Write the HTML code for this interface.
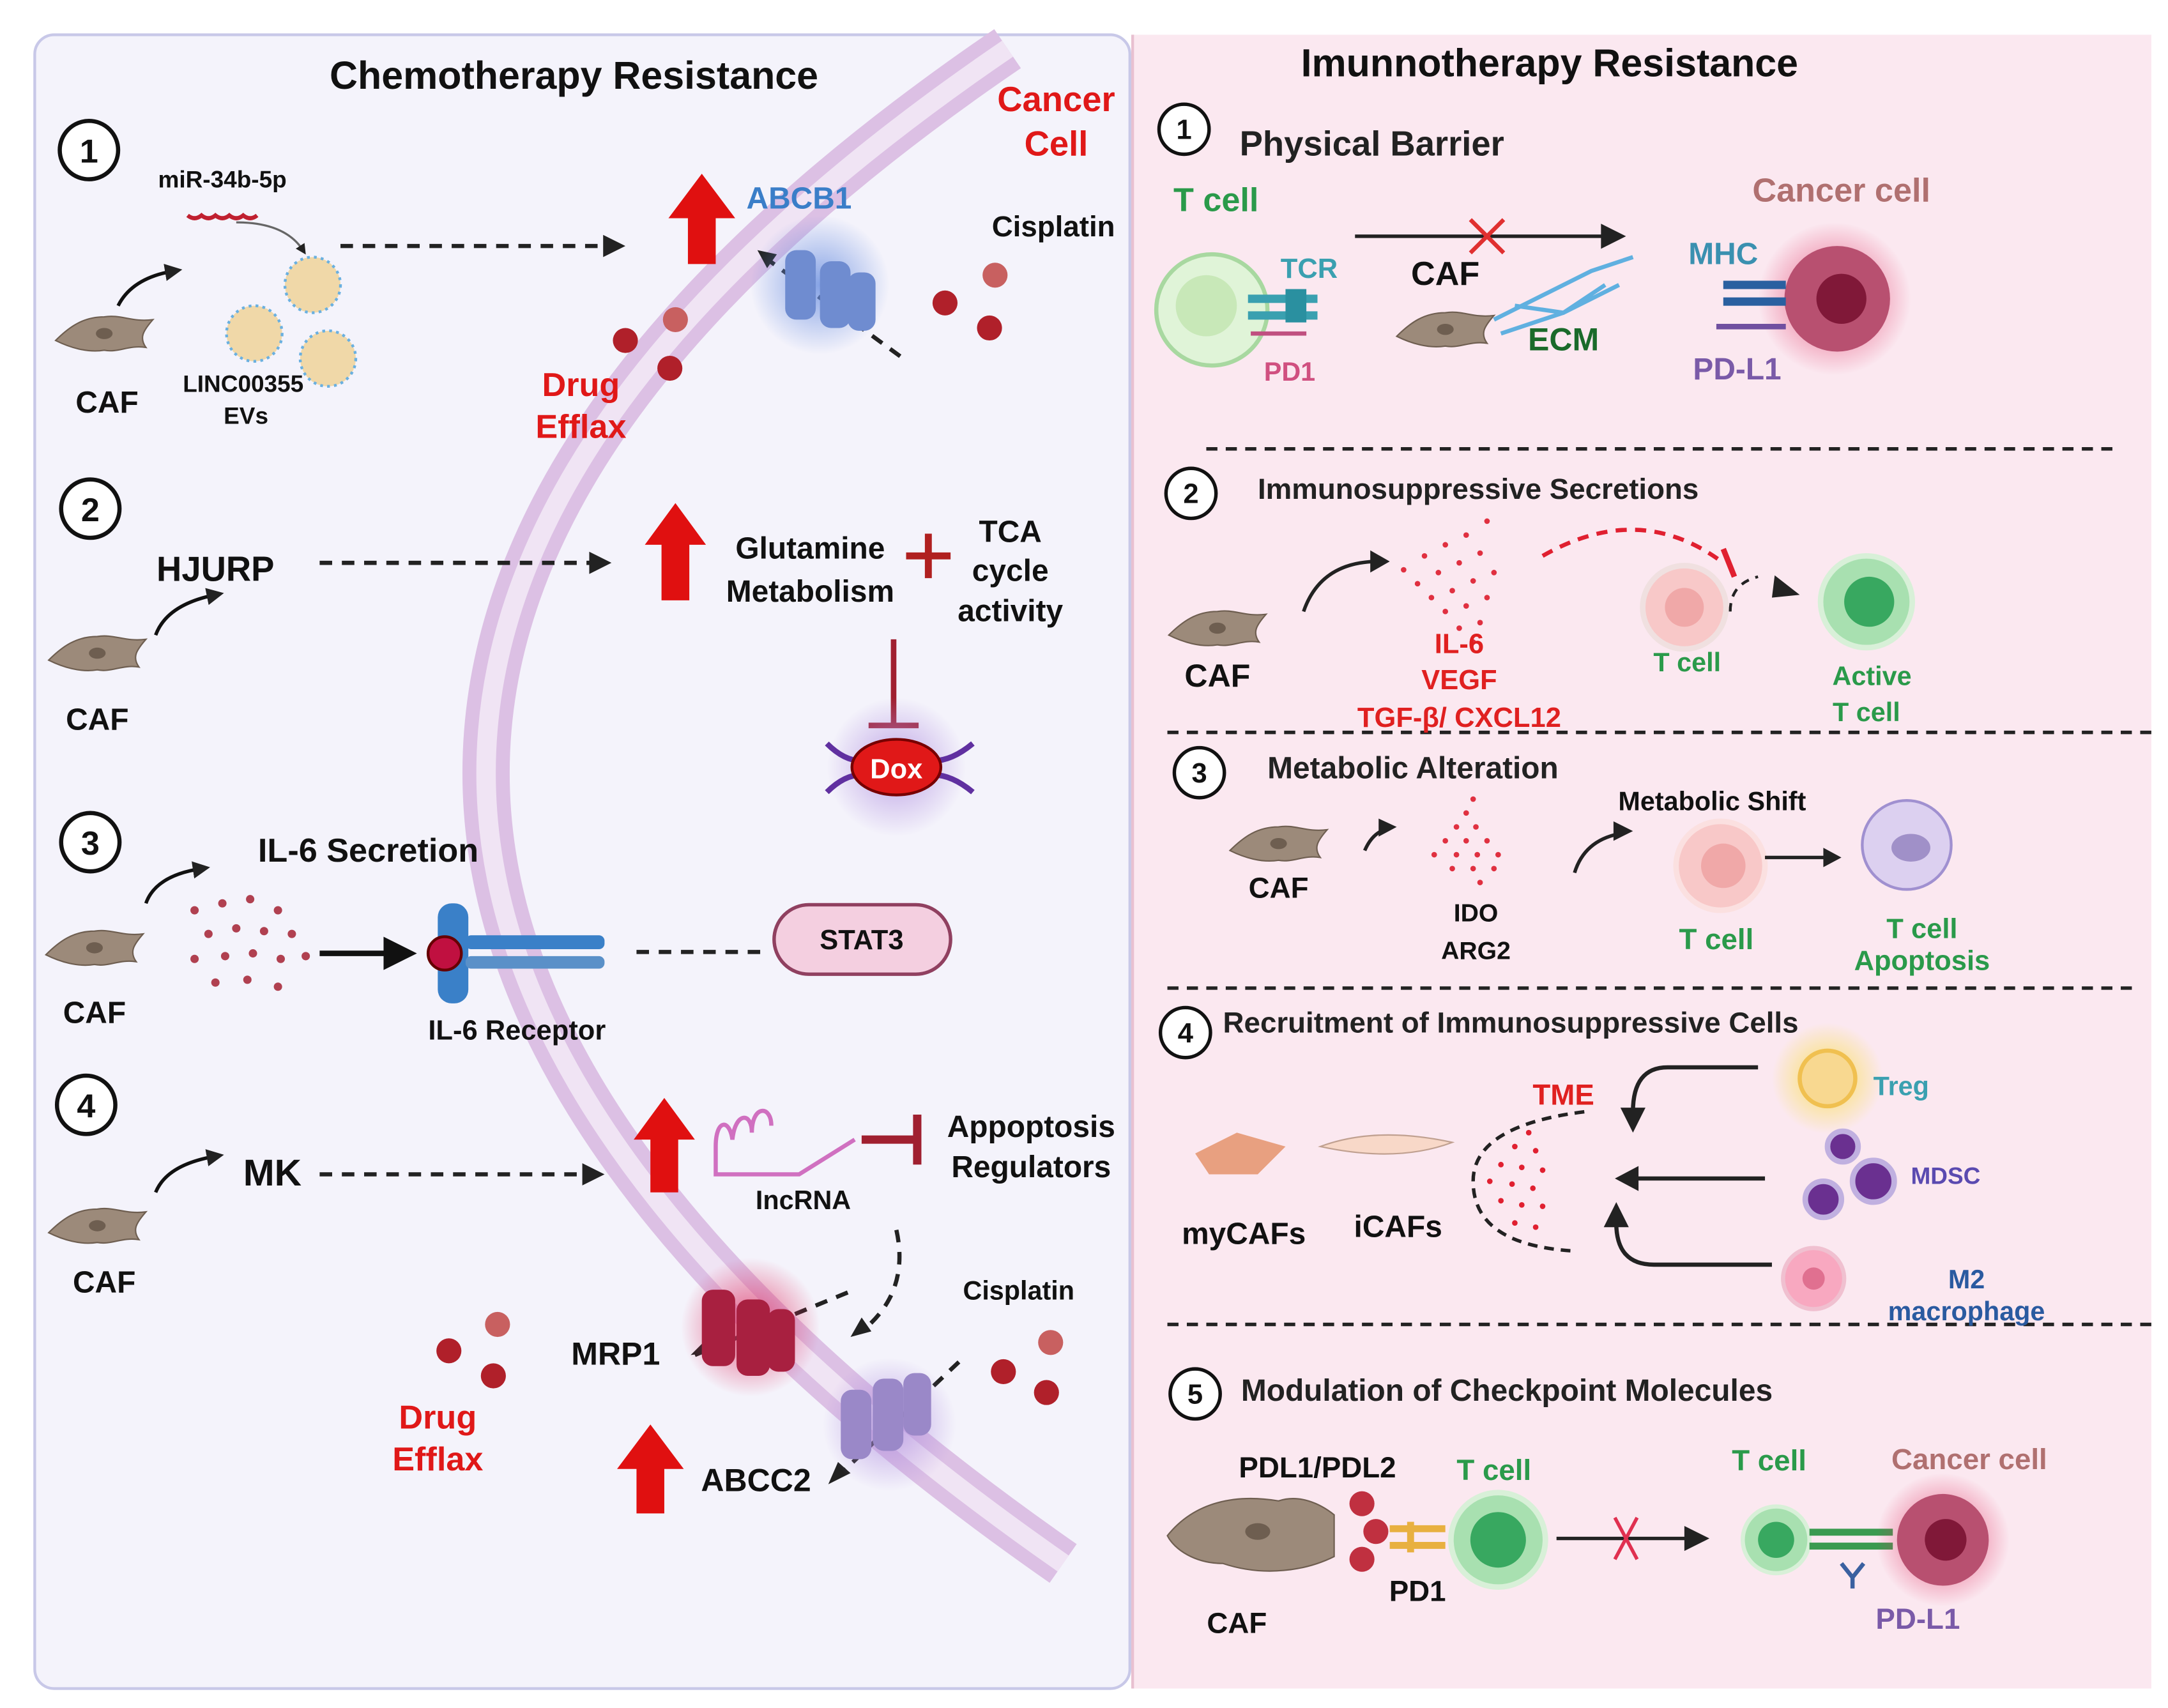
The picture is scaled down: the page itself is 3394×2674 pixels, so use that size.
<!DOCTYPE html>
<html><head><meta charset="utf-8"><style>
html,body{margin:0;padding:0;background:#fff}
svg{display:block}
text{font-family:"Liberation Sans",sans-serif;font-weight:bold}
</style></head><body>
<svg width="3394" height="2674" viewBox="0 0 1560 1229" preserveAspectRatio="none" xmlns="http://www.w3.org/2000/svg">
<defs>
<marker id="ah" viewBox="0 0 10 10" refX="5" refY="5" markerWidth="5" markerHeight="5" orient="auto"><path d="M0,0 L10,5 L0,10z" fill="#222"/></marker>
<radialGradient id="glowB"><stop offset="0" stop-color="#6a8fe0" stop-opacity=".8"/><stop offset="1" stop-color="#6a8fe0" stop-opacity="0"/></radialGradient>
<radialGradient id="glowR"><stop offset="0" stop-color="#e03060" stop-opacity=".8"/><stop offset="1" stop-color="#e03060" stop-opacity="0"/></radialGradient>
<radialGradient id="glowP"><stop offset="0" stop-color="#b090e0" stop-opacity=".8"/><stop offset="1" stop-color="#b090e0" stop-opacity="0"/></radialGradient>
<radialGradient id="glowY"><stop offset="0" stop-color="#f8e060"/><stop offset="1" stop-color="#f8e060" stop-opacity="0"/></radialGradient>
<g id="caf"><path d="M-35,5 C-25,-5 -15,-12 0,-12 C12,-14 20,-8 35,-10 C28,-2 25,3 30,10 C18,8 10,14 0,12 C-12,14 -25,10 -35,5Z" fill="#9c8a7a" stroke="#6e5e50" stroke-width="1"/><ellipse cx="0" cy="0" rx="6" ry="4" fill="#6e5e50"/></g>
<g id="drug"><circle cx="0" cy="0" r="9" fill="#b0202a"/></g>
</defs>
<rect x="25" y="25" width="788" height="1190" rx="14" fill="#f4f3fb" stroke="#c8c8e8" stroke-width="2"/>
<rect x="815" y="25" width="733" height="1190" fill="#fbe8f0"/>
<line x1="815" y1="25" x2="815" y2="1215" stroke="#e8c0d0" stroke-width="2"/>
<!-- membrane -->
<path d="M725,35 Q-45,560 765,1125" fill="none" stroke="#dcc0e4" stroke-width="34"/>
<path d="M725,35 Q-45,560 765,1125" fill="none" stroke="#f0e4f4" stroke-width="14"/>
<text x="413" y="64" font-size="28" text-anchor="middle" fill="#111">Chemotherapy Resistance</text>
<text x="760" y="80" font-size="25" text-anchor="middle" fill="#e01818">Cancer</text>
<text x="760" y="112" font-size="25" text-anchor="middle" fill="#e01818">Cell</text>
<g fill="#fff" stroke="#111" stroke-width="3"><circle cx="64" cy="108" r="21"/><circle cx="65" cy="366" r="21"/><circle cx="65" cy="606" r="21"/><circle cx="62" cy="795" r="21"/></g>
<g font-size="24" fill="#111" text-anchor="middle"><text x="64" y="117">1</text><text x="65" y="375">2</text><text x="65" y="615">3</text><text x="62" y="804">4</text></g>
<use href="#caf" x="75" y="240"/><use href="#caf" x="70" y="470"/><use href="#caf" x="68" y="682"/><use href="#caf" x="70" y="882"/>
<g font-size="22" fill="#111" text-anchor="middle"><text x="77" y="297">CAF</text><text x="70" y="525">CAF</text><text x="68" y="736">CAF</text><text x="75" y="930">CAF</text></g>
<g fill="none" stroke="#111" stroke-width="2.5" marker-end="url(#ah)"><path d="M85,220 Q95,200 125,195"/><path d="M112,457 Q120,435 155,428"/><path d="M105,650 Q112,630 145,625"/><path d="M112,858 Q120,838 155,832"/></g>
<text x="160" y="135" font-size="17" text-anchor="middle" fill="#111">miR-34b-5p</text>
<path d="M135,155 q5,4 10,0 q5,4 10,0 q5,4 10,0 q5,4 10,0 q5,4 10,0" stroke="#c02030" stroke-width="3" fill="none"/>
<path d="M170,160 Q205,160 218,180" stroke="#666" stroke-width="1.5" fill="none" marker-end="url(#ah)"/>
<g fill="#f0d8a8" stroke="#6ab0e0" stroke-width="2" stroke-dasharray="2 3"><circle cx="225" cy="205" r="20"/><circle cx="183" cy="240" r="20"/><circle cx="236" cy="258" r="20"/></g>
<text x="175" y="282" font-size="17" text-anchor="middle" fill="#111">LINC00355</text>
<text x="177" y="305" font-size="17" text-anchor="middle" fill="#111">EVs</text>
<g stroke="#222" stroke-width="3" stroke-dasharray="9 7" fill="none"><line x1="245" y1="177" x2="435" y2="177"/><line x1="230" y1="405" x2="425" y2="405"/><line x1="230" y1="845" x2="420" y2="845"/><line x1="458" y1="685" x2="548" y2="685"/><line x1="550" y1="185" x2="650" y2="258"/><line x1="610" y1="930" x2="500" y2="975"/><line x1="690" y1="980" x2="600" y2="1065"/><path d="M645,885 Q655,930 620,958"/></g>
<g fill="#222"><path d="M450,177 l-16,-8 v16z"/><path d="M440,405 l-16,-8 v16z"/><path d="M435,845 l-16,-8 v16z"/><path d="M497,975 l12,-12 l5,10z"/><path d="M596,1068 l7,-16 l9,8z"/><path d="M545,180 l14,3 l-7,10z"/><path d="M612,962 l8,-14 l7,10z"/></g>
<g fill="#e01010"><path d="M505,125 l-24,32 h14 v33 h20 v-33 h14z"/><path d="M486,362 l-22,30 h12 v40 h20 v-40 h12z"/><path d="M478,790 l-22,30 h12 v38 h20 v-38 h12z"/><path d="M468,1025 l-24,32 h14 v32 h20 v-32 h14z"/></g>
<circle cx="590" cy="205" r="50" fill="url(#glowB)"/>
<g fill="#6f8cd0"><rect x="565" y="180" width="22" height="50" rx="8"/><rect x="590" y="188" width="22" height="48" rx="8"/><rect x="610" y="196" width="20" height="42" rx="8"/></g>
<text x="575" y="150" font-size="22" text-anchor="middle" fill="#3a7ec8">ABCB1</text>
<text x="758" y="170" font-size="21" text-anchor="middle" fill="#111">Cisplatin</text>
<use href="#drug" x="680" y="218"/><use href="#drug" x="712" y="236"/><circle cx="716" cy="198" r="9" fill="#c86060"/>
<use href="#drug" x="450" y="245"/><use href="#drug" x="482" y="265"/><circle cx="486" cy="230" r="9" fill="#c86060"/>
<text x="418" y="285" font-size="24" text-anchor="middle" fill="#e01818">Drug</text>
<text x="418" y="315" font-size="24" text-anchor="middle" fill="#e01818">Efflax</text>
<text x="155" y="418" font-size="25" fill="#111" text-anchor="middle">HJURP</text>
<text x="583" y="402" font-size="22" fill="#111" text-anchor="middle">Glutamine</text>
<text x="583" y="433" font-size="22" fill="#111" text-anchor="middle">Metabolism</text>
<path d="M652,400 h32 M668,384 v32" stroke="#b02020" stroke-width="5"/>
<text x="727" y="390" font-size="22" fill="#111" text-anchor="middle">TCA</text>
<text x="727" y="418" font-size="22" fill="#111" text-anchor="middle">cycle</text>
<text x="727" y="447" font-size="22" fill="#111" text-anchor="middle">activity</text>
<path d="M643,460 v62 M625,522 h36" stroke="#a02030" stroke-width="4"/>
<circle cx="645" cy="552" r="50" fill="url(#glowP)"/>
<path d="M595,535 q25,25 50,0 q25,25 55,0 M595,570 q25,-25 50,0 q25,-25 55,0" stroke="#6030a0" stroke-width="4" fill="none"/>
<ellipse cx="645" cy="552" rx="32" ry="20" fill="#e01818" stroke="#700" stroke-width="2"/>
<text x="645" y="560" font-size="20" fill="#fff" text-anchor="middle">Dox</text>
<text x="265" y="620" font-size="24" fill="#111" text-anchor="middle">IL-6 Secretion</text>
<g fill="#b04050"><circle cx="140" cy="655" r="3"/><circle cx="160" cy="650" r="3"/><circle cx="180" cy="647" r="3"/><circle cx="200" cy="655" r="3"/><circle cx="150" cy="672" r="3"/><circle cx="170" cy="668" r="3"/><circle cx="190" cy="670" r="3"/><circle cx="210" cy="672" r="3"/><circle cx="140" cy="690" r="3"/><circle cx="162" cy="688" r="3"/><circle cx="182" cy="686" r="3"/><circle cx="202" cy="690" r="3"/><circle cx="220" cy="688" r="3"/><circle cx="155" cy="707" r="3"/><circle cx="178" cy="705" r="3"/><circle cx="200" cy="710" r="3"/></g>
<path d="M230,686 h50" stroke="#111" stroke-width="4"/><path d="M300,686 l-24,-12 v24z" fill="#111"/>
<rect x="315" y="650" width="22" height="72" rx="10" fill="#3a80c8"/>
<rect x="335" y="673" width="100" height="10" rx="4" fill="#3a80c8"/><rect x="335" y="688" width="100" height="9" rx="4" fill="#5a90c8"/>
<circle cx="320" cy="686" r="12" fill="#c01040" stroke="#600" stroke-width="2"/>
<text x="372" y="748" font-size="20" fill="#111" text-anchor="middle">IL-6 Receptor</text>
<rect x="557" y="651" width="127" height="50" rx="25" fill="#f4cfe0" stroke="#904060" stroke-width="2.5"/>
<text x="620" y="683" font-size="20" fill="#111" text-anchor="middle">STAT3</text>
<text x="196" y="853" font-size="27" fill="#111" text-anchor="middle">MK</text>
<path d="M515,825 c0,-20 10,-20 12,-5 c2,-20 14,-20 14,-5 c0,-20 14,-20 14,-5 M515,825 v20 h60 l40,-25" stroke="#d070c0" stroke-width="3" fill="none"/>
<text x="578" y="870" font-size="19" fill="#111" text-anchor="middle">IncRNA</text>
<path d="M620,820 h40 M660,802 v36" stroke="#a02030" stroke-width="6"/>
<text x="742" y="818" font-size="22" fill="#111" text-anchor="middle">Appoptosis</text>
<text x="742" y="847" font-size="22" fill="#111" text-anchor="middle">Regulators</text>
<circle cx="540" cy="955" r="50" fill="url(#glowR)"/>
<g fill="#a82040"><rect x="505" y="928" width="24" height="55" rx="8"/><rect x="530" y="935" width="24" height="55" rx="8"/><rect x="552" y="942" width="20" height="45" rx="8"/></g>
<circle cx="640" cy="1025" r="48" fill="url(#glowP)"/>
<g fill="#9a88c8"><rect x="605" y="1000" width="22" height="50" rx="8"/><rect x="628" y="992" width="22" height="52" rx="8"/><rect x="650" y="988" width="20" height="45" rx="8"/></g>
<text x="443" y="982" font-size="23" fill="#111" text-anchor="middle">MRP1</text>
<text x="544" y="1073" font-size="23" fill="#111" text-anchor="middle">ABCC2</text>
<text x="733" y="935" font-size="19" fill="#111" text-anchor="middle">Cisplatin</text>
<use href="#drug" x="722" y="987"/><use href="#drug" x="753" y="1002"/><circle cx="756" cy="966" r="9" fill="#c86060"/>
<use href="#drug" x="323" y="972"/><use href="#drug" x="355" y="990"/><circle cx="358" cy="953" r="9" fill="#c86060"/>
<text x="315" y="1028" font-size="24" text-anchor="middle" fill="#e01818">Drug</text>
<text x="315" y="1058" font-size="24" text-anchor="middle" fill="#e01818">Efflax</text>

<!-- RIGHT -->
<text x="1115" y="55" font-size="28" text-anchor="middle" fill="#111">Imunnotherapy Resistance</text>
<g fill="#fff" stroke="#111" stroke-width="2.5"><circle cx="852" cy="93" r="18"/><circle cx="857" cy="355" r="18"/><circle cx="863" cy="556" r="18"/><circle cx="853" cy="743" r="18"/><circle cx="860" cy="1003" r="18"/></g>
<g font-size="20" fill="#111" text-anchor="middle"><text x="852" y="100">1</text><text x="857" y="362">2</text><text x="863" y="563">3</text><text x="853" y="750">4</text><text x="860" y="1010">5</text></g>
<text x="892" y="112" font-size="25" fill="#222">Physical Barrier</text>
<text x="875" y="152" font-size="24" fill="#2a9a4a" text-anchor="middle">T cell</text>
<circle cx="872" cy="223" r="40" fill="#e0f4d8" stroke="#a8d8a0" stroke-width="3"/><circle cx="868" cy="220" r="22" fill="#c8e8b8"/>
<rect x="898" y="212" width="50" height="6" fill="#3aa0b0"/><rect x="898" y="224" width="50" height="6" fill="#3aa0b0"/><rect x="925" y="208" width="15" height="24" fill="#2a90a0"/>
<path d="M900,240 h40" stroke="#c05080" stroke-width="3"/>
<text x="942" y="200" font-size="20" fill="#3aa0b0" text-anchor="middle">TCR</text>
<text x="928" y="274" font-size="19" fill="#d05080" text-anchor="middle">PD1</text>
<path d="M975,170 h180" stroke="#222" stroke-width="2.5"/><path d="M1170,170 l-18,-9 v18z" fill="#222"/>
<path d="M1058,158 l24,24 M1082,158 l-24,24" stroke="#e03030" stroke-width="3"/>
<text x="1040" y="205" font-size="24" fill="#111" text-anchor="middle">CAF</text>
<use href="#caf" x="1040" y="237"/>
<path d="M1075,230 l40,-20 l30,-15 l30,-10 M1080,240 l45,-15 l40,-20 M1090,220 l35,5 l30,-20" stroke="#60b0e0" stroke-width="3" fill="none"/>
<text x="1125" y="252" font-size="23" fill="#1a6a2a" text-anchor="middle">ECM</text>
<text x="1325" y="145" font-size="24" fill="#b07070" text-anchor="middle">Cancer cell</text>
<circle cx="1320" cy="215" r="55" fill="url(#glowR)"/>
<circle cx="1322" cy="215" r="38" fill="#b85070"/><circle cx="1325" cy="215" r="18" fill="#801838"/>
<text x="1240" y="190" font-size="22" fill="#3a90b0" text-anchor="middle">MHC</text>
<rect x="1240" y="202" width="45" height="6" fill="#2a60a0"/><rect x="1240" y="214" width="45" height="6" fill="#2a60a0"/>
<path d="M1235,235 h50" stroke="#7050a0" stroke-width="4"/>
<text x="1250" y="273" font-size="22" fill="#7a5aa8" text-anchor="middle">PD-L1</text>
<g stroke="#222" stroke-width="2.5" stroke-dasharray="8 6"><line x1="868" y1="323" x2="1520" y2="323"/><line x1="840" y1="527" x2="1548" y2="527"/><line x1="840" y1="711" x2="1540" y2="711"/><line x1="840" y1="953" x2="1548" y2="953"/></g>
<text x="905" y="359" font-size="21" fill="#222">Immunosuppressive Secretions</text>
<use href="#caf" x="876" y="452"/>
<text x="876" y="494" font-size="23" fill="#111" text-anchor="middle">CAF</text>
<path d="M938,440 Q950,405 990,404" stroke="#222" stroke-width="2.5" fill="none"/><path d="M1000,404 l-14,-8 v16z" fill="#222"/>
<g fill="#e03040"><circle cx="1010" cy="410" r="2"/><circle cx="1025" cy="400" r="2"/><circle cx="1040" cy="392" r="2"/><circle cx="1055" cy="385" r="2"/><circle cx="1020" cy="420" r="2"/><circle cx="1035" cy="412" r="2"/><circle cx="1050" cy="405" r="2"/><circle cx="1065" cy="398" r="2"/><circle cx="1030" cy="430" r="2"/><circle cx="1045" cy="425" r="2"/><circle cx="1060" cy="418" r="2"/><circle cx="1075" cy="412" r="2"/><circle cx="1040" cy="440" r="2"/><circle cx="1055" cy="436" r="2"/><circle cx="1070" cy="430" r="2"/><circle cx="1050" cy="452" r="2"/><circle cx="1065" cy="448" r="2"/><circle cx="1060" cy="462" r="2"/><circle cx="1070" cy="375" r="2"/></g>
<text x="1050" y="470" font-size="20" fill="#e02020" text-anchor="middle">IL-6</text>
<text x="1050" y="496" font-size="20" fill="#e02020" text-anchor="middle">VEGF</text>
<text x="1050" y="523" font-size="20" fill="#e02020" text-anchor="middle">TGF-β/ CXCL12</text>
<path d="M1110,400 Q1180,360 1240,405" stroke="#e02030" stroke-width="3" stroke-dasharray="8 6" fill="none"/><path d="M1240,395 l8,20" stroke="#e02030" stroke-width="4"/>
<path d="M1245,440 q0,-20 20,-25" stroke="#222" stroke-width="2" stroke-dasharray="6 5" fill="none"/><path d="M1295,428 l-18,-14 l-2,16z" fill="#222"/>
<circle cx="1212" cy="437" r="30" fill="#f8c8c8" stroke="#f0e0e0" stroke-width="4"/><circle cx="1212" cy="437" r="14" fill="#f0a8a8"/>
<text x="1214" y="483" font-size="19" fill="#2a9a4a" text-anchor="middle">T cell</text>
<circle cx="1343" cy="433" r="33" fill="#a8e0b0" stroke="#d8f0d8" stroke-width="4"/><circle cx="1345" cy="433" r="18" fill="#38a860"/>
<text x="1347" y="493" font-size="19" fill="#2a9a4a" text-anchor="middle">Active</text>
<text x="1343" y="519" font-size="19" fill="#2a9a4a" text-anchor="middle">T cell</text>
<text x="912" y="560" font-size="22" fill="#222">Metabolic Alteration</text>
<use href="#caf" x="920" y="607"/>
<text x="920" y="646" font-size="21" fill="#111" text-anchor="middle">CAF</text>
<path d="M982,612 Q988,598 1000,596" stroke="#222" stroke-width="2.5" fill="none"/><path d="M1005,595 l-13,-6 v13z" fill="#222"/>
<g fill="#e03040"><circle cx="1060" cy="575" r="2"/><circle cx="1055" cy="585" r="2"/><circle cx="1048" cy="595" r="2"/><circle cx="1062" cy="595" r="2"/><circle cx="1040" cy="605" r="2"/><circle cx="1055" cy="605" r="2"/><circle cx="1070" cy="605" r="2"/><circle cx="1032" cy="615" r="2"/><circle cx="1048" cy="615" r="2"/><circle cx="1063" cy="615" r="2"/><circle cx="1078" cy="615" r="2"/><circle cx="1045" cy="625" r="2"/><circle cx="1060" cy="625" r="2"/><circle cx="1075" cy="625" r="2"/><circle cx="1065" cy="635" r="2"/></g>
<text x="1062" y="663" font-size="18" fill="#111" text-anchor="middle">IDO</text>
<text x="1062" y="690" font-size="18" fill="#111" text-anchor="middle">ARG2</text>
<path d="M1133,628 Q1140,605 1165,600" stroke="#222" stroke-width="2.5" fill="none"/><path d="M1175,598 l-14,-7 v14z" fill="#222"/>
<text x="1232" y="583" font-size="19" fill="#111" text-anchor="middle">Metabolic Shift</text>
<circle cx="1238" cy="623" r="32" fill="#f8c8c8" stroke="#fbe0e0" stroke-width="4"/><circle cx="1240" cy="623" r="16" fill="#f0a8a8"/>
<path d="M1270,617 h48" stroke="#222" stroke-width="2.5"/><path d="M1325,617 l-13,-7 v14z" fill="#222"/>
<text x="1235" y="683" font-size="21" fill="#2a9a4a" text-anchor="middle">T cell</text>
<circle cx="1372" cy="608" r="32" fill="#dcd0f0" stroke="#a090d0" stroke-width="2"/><ellipse cx="1375" cy="610" rx="14" ry="10" fill="#a090c8"/>
<text x="1383" y="675" font-size="20" fill="#2a9a4a" text-anchor="middle">T cell</text>
<text x="1383" y="698" font-size="20" fill="#2a9a4a" text-anchor="middle">Apoptosis</text>
<text x="880" y="743" font-size="21" fill="#222">Recruitment of Immunosuppressive Cells</text>
<path d="M860,830 l30,-15 l35,10 l-20,20 l-35,0z" fill="#e8a080"/>
<path d="M950,825 q40,-15 95,-3 q-40,15 -95,3z" fill="#f8d8c8" stroke="#c0a090"/>
<text x="895" y="895" font-size="22" fill="#111" text-anchor="middle">myCAFs</text>
<text x="1006" y="890" font-size="22" fill="#111" text-anchor="middle">iCAFs</text>
<text x="1125" y="795" font-size="21" fill="#e02020" text-anchor="middle">TME</text>
<path d="M1140,800 Q1060,810 1060,850 Q1060,895 1130,900" stroke="#222" stroke-width="2.5" stroke-dasharray="7 5" fill="none"/>
<g fill="#e02030"><circle cx="1100" cy="815" r="2"/><circle cx="1090" cy="825" r="2"/><circle cx="1105" cy="828" r="2"/><circle cx="1080" cy="838" r="2"/><circle cx="1095" cy="840" r="2"/><circle cx="1110" cy="842" r="2"/><circle cx="1072" cy="850" r="2"/><circle cx="1088" cy="852" r="2"/><circle cx="1103" cy="855" r="2"/><circle cx="1080" cy="864" r="2"/><circle cx="1095" cy="867" r="2"/><circle cx="1110" cy="868" r="2"/><circle cx="1090" cy="880" r="2"/><circle cx="1105" cy="883" r="2"/></g>
<path d="M1265,768 H1200 Q1175,768 1175,800" stroke="#222" stroke-width="3" fill="none"/><path d="M1175,815 l-9,-18 h18z" fill="#222"/>
<path d="M1270,848 H1175" stroke="#222" stroke-width="3"/><path d="M1162,848 l17,-9 v18z" fill="#222"/>
<path d="M1275,910 H1190 Q1163,910 1163,880" stroke="#222" stroke-width="3" fill="none"/><path d="M1163,865 l-9,18 h18z" fill="#222"/>
<circle cx="1315" cy="776" r="40" fill="url(#glowY)"/><circle cx="1315" cy="776" r="20" fill="#f8d890" stroke="#f0c050" stroke-width="3"/>
<text x="1368" y="788" font-size="19" fill="#3aa0b0" text-anchor="middle">Treg</text>
<g fill="#6a3090" stroke="#c0b0e0" stroke-width="4"><circle cx="1326" cy="825" r="11"/><circle cx="1312" cy="863" r="13"/><circle cx="1348" cy="850" r="15"/></g>
<text x="1400" y="852" font-size="17" fill="#5a4ab0" text-anchor="middle">MDSC</text>
<circle cx="1305" cy="920" r="22" fill="#f8a8c0" stroke="#f0c0d0" stroke-width="3"/><circle cx="1305" cy="920" r="8" fill="#e07090"/>
<text x="1415" y="927" font-size="19" fill="#2a5aa0" text-anchor="middle">M2</text>
<text x="1415" y="950" font-size="19" fill="#2a5aa0" text-anchor="middle">macrophage</text>
<text x="893" y="1008" font-size="22" fill="#222">Modulation of Checkpoint Molecules</text>
<text x="948" y="1063" font-size="21" fill="#111" text-anchor="middle">PDL1/PDL2</text>
<path d="M840,1105 C860,1080 890,1075 920,1080 C935,1075 950,1082 960,1090 L960,1120 C940,1130 910,1135 880,1125 C860,1125 845,1115 840,1105Z" fill="#9c8a7a" stroke="#6e5e50"/>
<ellipse cx="905" cy="1102" rx="9" ry="6" fill="#6e5e50"/>
<g fill="#c03040"><circle cx="980" cy="1082" r="9"/><circle cx="990" cy="1102" r="9"/><circle cx="980" cy="1122" r="9"/></g>
<path d="M1000,1100 h40 M1000,1112 h40 M1015,1095 v22" stroke="#e8b040" stroke-width="5"/>
<text x="1020" y="1152" font-size="21" fill="#111" text-anchor="middle">PD1</text>
<text x="890" y="1175" font-size="21" fill="#111" text-anchor="middle">CAF</text>
<text x="1075" y="1065" font-size="21" fill="#2a9a4a" text-anchor="middle">T cell</text>
<circle cx="1078" cy="1108" r="34" fill="#a8e0b0" stroke="#d8f0d8" stroke-width="4"/><circle cx="1078" cy="1108" r="20" fill="#38a860"/>
<path d="M1120,1107 h95" stroke="#222" stroke-width="2.5"/><path d="M1230,1107 l-18,-9 v18z" fill="#222"/>
<path d="M1162,1092 l16,30 M1178,1092 l-16,30" stroke="#e03050" stroke-width="2.5"/>
<text x="1273" y="1058" font-size="21" fill="#2a9a4a" text-anchor="middle">T cell</text>
<circle cx="1278" cy="1108" r="24" fill="#a8e0b0" stroke="#d8f0d8" stroke-width="3"/><circle cx="1278" cy="1108" r="13" fill="#38a860"/>
<rect x="1302" y="1100" width="60" height="5" fill="#3a9a50"/><rect x="1302" y="1110" width="60" height="5" fill="#3a9a50"/>
<text x="1417" y="1057" font-size="21" fill="#b07070" text-anchor="middle">Cancer cell</text>
<circle cx="1398" cy="1108" r="48" fill="url(#glowR)"/>
<circle cx="1398" cy="1108" r="33" fill="#b85070"/><circle cx="1400" cy="1108" r="15" fill="#801838"/>
<path d="M1325,1125 l8,10 l8,-10 M1333,1135 v8" stroke="#3a60a0" stroke-width="3" fill="none"/>
<text x="1380" y="1172" font-size="21" fill="#7a5aa8" text-anchor="middle">PD-L1</text>
</svg>
</body></html>
